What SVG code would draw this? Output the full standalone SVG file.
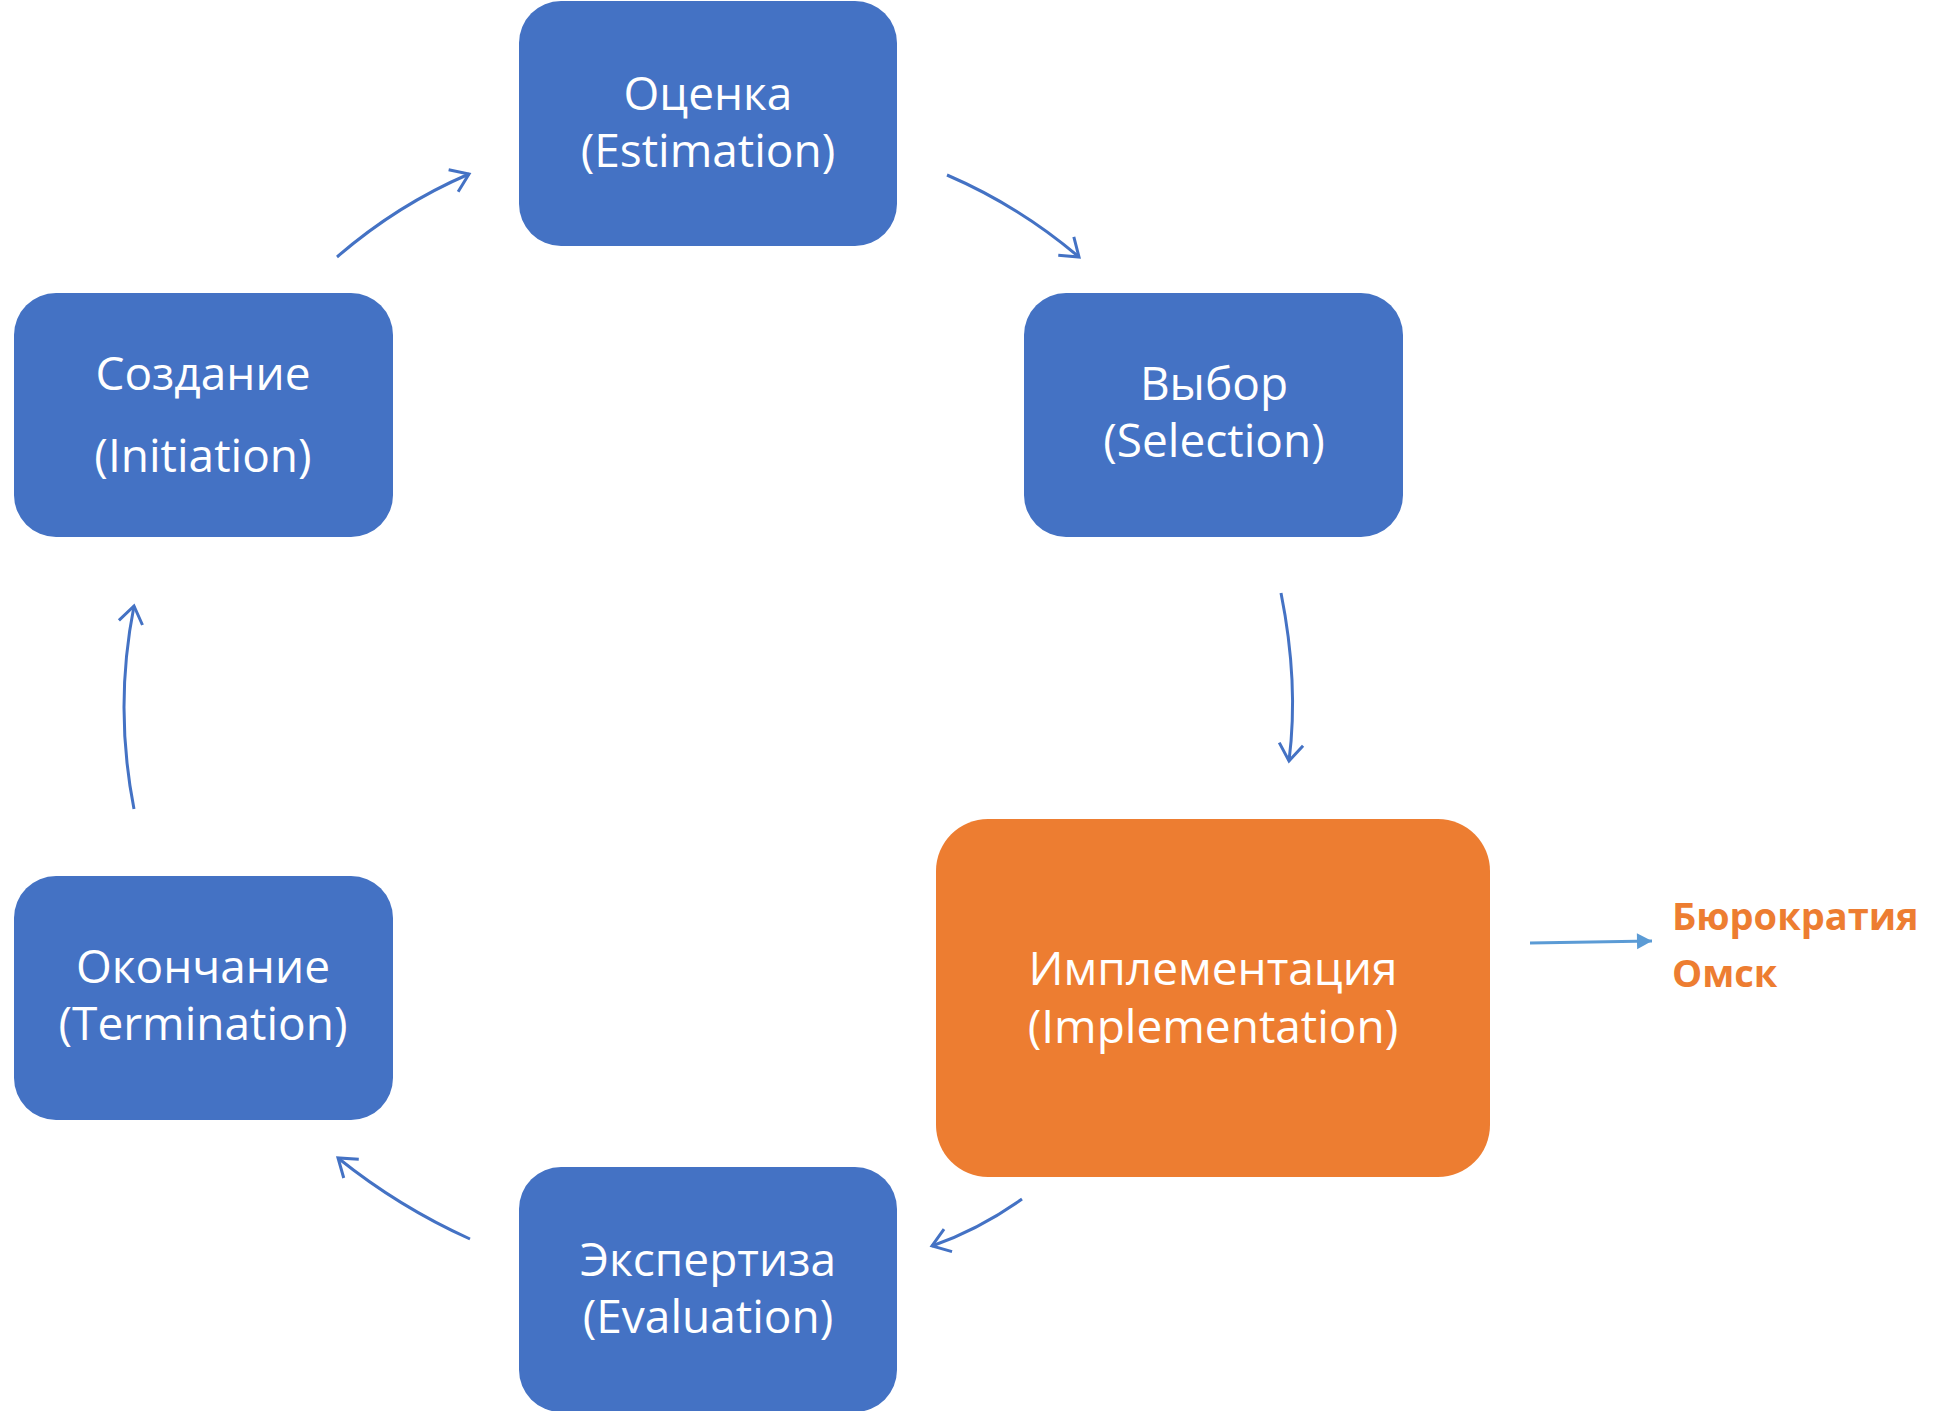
<svg xmlns="http://www.w3.org/2000/svg" width="1939" height="1411" viewBox="0 0 1939 1411">
<style>
.blue{fill:#4472C4}
.orange{fill:#ED7D31}
.lbl{font-family:"Open Sans","Liberation Sans",sans-serif;font-size:46px;fill:#FFFFFF;text-anchor:middle}
.side{font-family:"Open Sans","Liberation Sans",sans-serif;font-size:38px;font-weight:bold;fill:#ED7D31}
.conn{fill:none;stroke:#4472C4;stroke-width:3}
.conn2{fill:none;stroke:#5B9BD5;stroke-width:3}
</style>
<defs>
<marker id="open" markerUnits="userSpaceOnUse" viewBox="-22 -16 26 32" markerWidth="26" markerHeight="32" refX="0" refY="0" orient="auto">
<path d="M-17,-12 L0,0 L-17,12" fill="none" stroke="#4472C4" stroke-width="3"/>
</marker>
<marker id="solid" markerUnits="userSpaceOnUse" viewBox="-16 -9 17 18" markerWidth="17" markerHeight="18" refX="0" refY="0" orient="auto">
<path d="M-15,-8 L0,0 L-15,8 Z" fill="#5B9BD5"/>
</marker>
</defs>
<g id="connectors">
<path class="conn" d="M337,257 Q397,205 469,174" marker-end="url(#open)"/>
<path class="conn" d="M947,175 Q1019,206 1079,257" marker-end="url(#open)"/>
<path class="conn" d="M1281,593 Q1299,683 1289,761" marker-end="url(#open)"/>
<path class="conn" d="M1022,1199 Q980,1229 932,1246" marker-end="url(#open)"/>
<path class="conn" d="M470,1239 Q399,1207 338,1158" marker-end="url(#open)"/>
<path class="conn" d="M134,809 Q114,707 134,606" marker-end="url(#open)"/>
<path class="conn2" d="M1530,943 L1652,941" marker-end="url(#solid)"/>
</g>
<g id="estimation">
<rect class="blue" x="519" y="1" width="378" height="245" rx="42"/>
<text class="lbl" x="708" y="110">Оценка</text>
<text class="lbl" x="708" y="167">(Estimation)</text>
</g>
<g id="selection">
<rect class="blue" x="1024" y="293" width="379" height="244" rx="42"/>
<text class="lbl" x="1214" y="400">Выбор</text>
<text class="lbl" x="1214" y="457">(Selection)</text>
</g>
<g id="initiation">
<rect class="blue" x="14" y="293" width="379" height="244" rx="42"/>
<text class="lbl" x="203" y="390">Создание</text>
<text class="lbl" x="203" y="472">(Initiation)</text>
</g>
<g id="termination">
<rect class="blue" x="14" y="876" width="379" height="244" rx="42"/>
<text class="lbl" x="203" y="983">Окончание</text>
<text class="lbl" x="203" y="1040">(Termination)</text>
</g>
<g id="evaluation">
<rect class="blue" x="519" y="1167" width="378" height="245" rx="42"/>
<text class="lbl" x="708" y="1276">Экспертиза</text>
<text class="lbl" x="708" y="1333">(Evaluation)</text>
</g>
<g id="implementation">
<rect class="orange" x="936" y="819" width="554" height="358" rx="52"/>
<text class="lbl" x="1213" y="985">Имплементация</text>
<text class="lbl" x="1213" y="1043">(Implementation)</text>
</g>
<g id="bureaucracy">
<text class="side" x="1672" y="930">Бюрократия</text>
<text class="side" x="1672" y="987">Омск</text>
</g>
</svg>
